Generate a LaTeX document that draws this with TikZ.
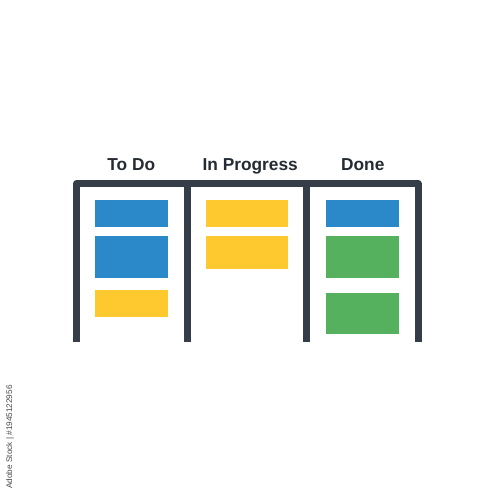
\documentclass[tikz,border=0pt]{standalone}
\usepackage{fontspec}
\setmainfont{Liberation Sans}
\definecolor{frame}{HTML}{353D49}
\definecolor{cblue}{HTML}{2C89C9}
\definecolor{cyellow}{HTML}{FEC92E}
\definecolor{cgreen}{HTML}{55B15D}
\definecolor{idgray}{HTML}{4A4A4A}
\begin{document}
\begin{tikzpicture}[x=1pt,y=-1pt,
  framestyle/.style={draw=frame,line width=7pt,line join=round},
  head/.style={font=\fontsize{17.3}{20}\selectfont\bfseries,text=frame!70!black,anchor=base,inner sep=0pt}]
\useasboundingbox[fill=white] (0,0) rectangle (500,500);
% headings
\node[head] (todo) at (131.3,170.7) {To Do};
\node[head] (inprog) at (250.2,170.7) {In Progress};
\node[head] (done) at (362.8,170.7) {Done};
% frame
\draw[framestyle] (76.5,341.7) -- (76.5,183.8) -- (418,183.8) -- (418,341.7);
\draw[framestyle] (187.3,183.8) -- (187.3,341.7);
\draw[framestyle] (306.7,183.8) -- (306.7,341.7);
% To Do cards
\fill[cblue] (95.3,200) rectangle (168.3,226.7);
\fill[cblue] (95.3,236) rectangle (168.3,278.3);
\fill[cyellow] (95.3,290) rectangle (168.3,316.7);
% In Progress cards
\fill[cyellow] (205.7,200) rectangle (288.3,226.7);
\fill[cyellow] (205.7,236) rectangle (288.3,269.3);
% Done cards
\fill[cblue] (326,200) rectangle (399,226.7);
\fill[cgreen] (326,236) rectangle (399,278.3);
\fill[cgreen] (326,292.7) rectangle (399,334.3);
% stock id
\node[rotate=90,font=\fontsize{8.2}{10}\selectfont,text=idgray,inner sep=0pt] (sid) at (10,437) {Adobe Stock | \#1945122956};
\end{tikzpicture}
\end{document}
